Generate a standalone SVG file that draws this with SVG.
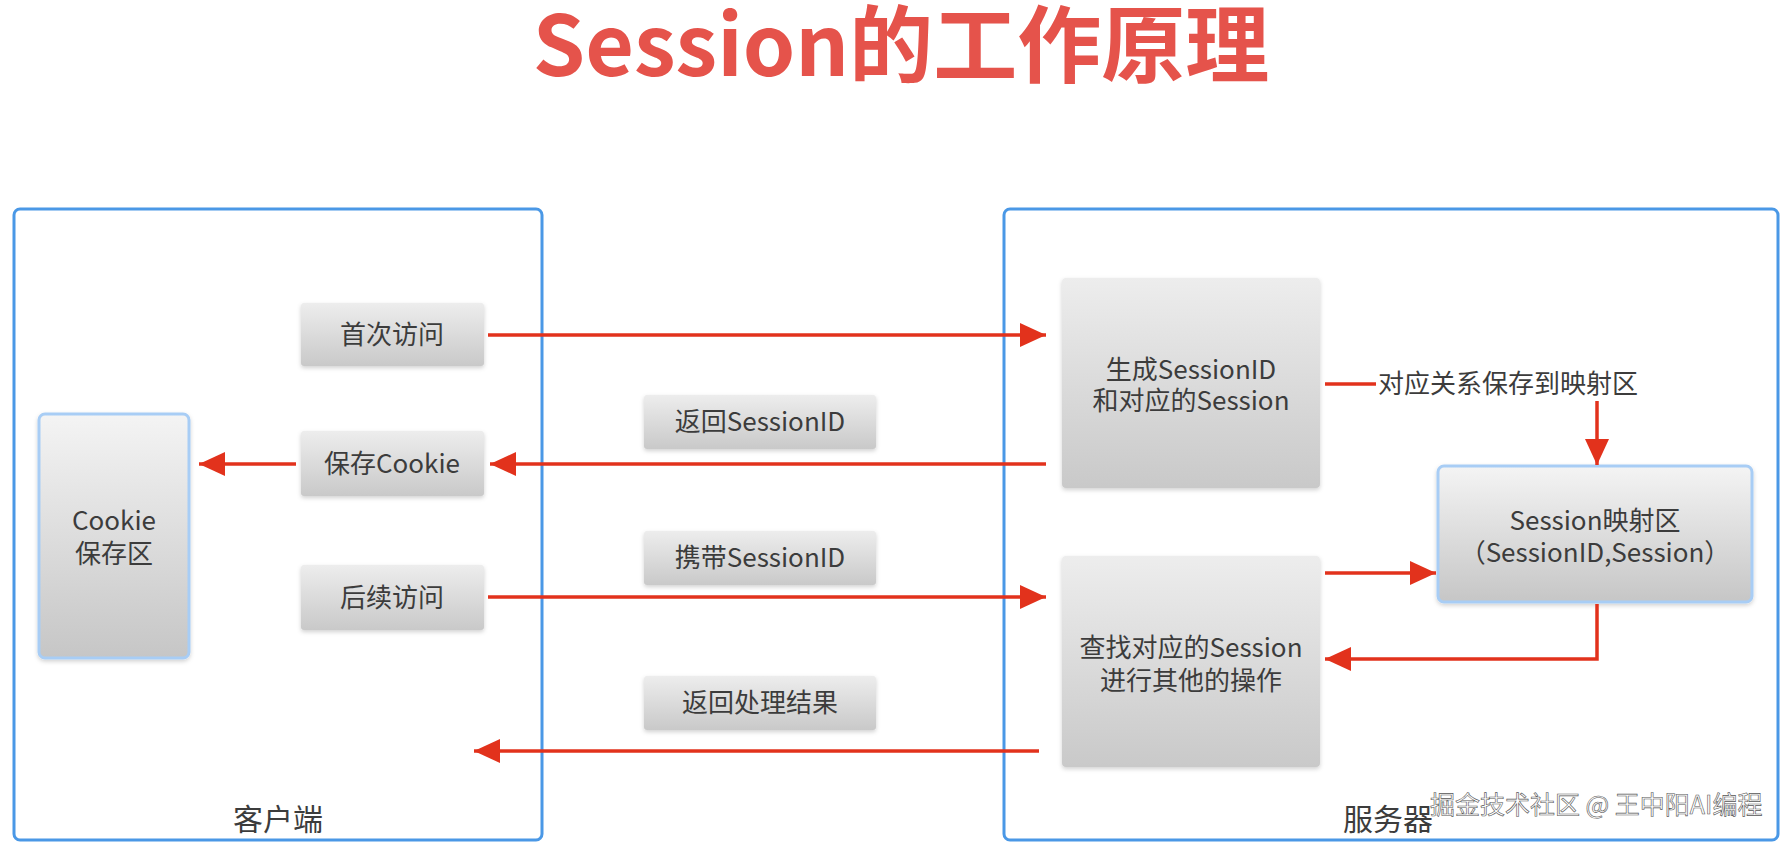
<svg xmlns="http://www.w3.org/2000/svg" width="1787" height="842" viewBox="0 0 1787 842">
<defs>
<linearGradient id="g" x1="0" y1="0" x2="0" y2="1">
<stop offset="0" stop-color="#ededed"/>
<stop offset="1" stop-color="#c9c9c9"/>
</linearGradient>
<linearGradient id="gb" x1="0" y1="0" x2="0" y2="1">
<stop offset="0" stop-color="#f4f4f4"/>
<stop offset="1" stop-color="#c6c6c6"/>
</linearGradient>
<filter id="sh" x="-10%" y="-10%" width="120%" height="130%">
<feDropShadow dx="0" dy="2" stdDeviation="2" flood-color="#000" flood-opacity="0.18"/>
</filter>
<marker id="ah" markerUnits="userSpaceOnUse" markerWidth="28" markerHeight="24" refX="26" refY="12" orient="auto">
<path d="M0,0 L26,12 L0,24 z" fill="#e2321c"/>
</marker>
</defs>
<style>
text{font-family:"Noto Sans CJK SC","Noto Sans",sans-serif;fill:#3c3c3c;font-size:26px;text-anchor:middle}
.title{font-size:84px;font-weight:bold;fill:#e5534b}
.box{fill:url(#g);filter:url(#sh)}
.bbox{fill:url(#gb);stroke:#a8cdf5;stroke-width:3;filter:url(#sh)}
.cont{fill:none;stroke:#4a98e6;stroke-width:3}
.c{fill:none;stroke:#e2321c;stroke-width:3.5}
.big{font-size:30px}
.wm{fill:#fff;stroke:#555;stroke-width:0.6;font-size:25px;text-anchor:start}
</style>
<rect width="1787" height="842" fill="#fff"/>
<text class="title" x="901" y="76">Session的工作原理</text>

<g id="client">
<rect class="cont" x="14" y="209" width="528" height="631" rx="6"/>
<text class="big" x="278" y="830">客户端</text>
</g>
<g id="server">
<rect class="cont" x="1004" y="209" width="774" height="631" rx="6"/>
<text class="big" x="1388" y="830">服务器</text>
</g>

<g id="first-visit">
<rect class="box" x="301" y="303" width="183" height="63" rx="3"/>
<text x="392" y="344">首次访问</text>
</g>
<g id="save-cookie">
<rect class="box" x="301" y="431" width="183" height="65" rx="3"/>
<text x="392" y="473">保存Cookie</text>
</g>
<g id="later-visit">
<rect class="box" x="301" y="565" width="183" height="65" rx="3"/>
<text x="392" y="607">后续访问</text>
</g>
<g id="cookie-store">
<rect class="bbox" x="39" y="414" width="150" height="244" rx="6"/>
<text x="114" y="530">Cookie</text>
<text x="114" y="563">保存区</text>
</g>

<g id="ret-sid">
<rect class="box" x="644" y="395" width="232" height="54" rx="3"/>
<text x="760" y="431">返回SessionID</text>
</g>
<g id="carry-sid">
<rect class="box" x="644" y="531" width="232" height="54" rx="3"/>
<text x="760" y="567">携带SessionID</text>
</g>
<g id="ret-result">
<rect class="box" x="644" y="676" width="232" height="54" rx="3"/>
<text x="760" y="712">返回处理结果</text>
</g>

<g id="gen-session">
<rect class="box" x="1062" y="278" width="258" height="210" rx="4"/>
<text x="1191" y="379">生成SessionID</text>
<text x="1191" y="410">和对应的Session</text>
</g>
<g id="find-session">
<rect class="box" x="1062" y="556" width="258" height="211" rx="4"/>
<text x="1191" y="657">查找对应的Session</text>
<text x="1191" y="690">进行其他的操作</text>
</g>
<g id="session-map">
<rect class="bbox" x="1438" y="466" width="314" height="136" rx="6"/>
<text x="1595" y="530">Session映射区</text>
<text x="1595" y="562">（SessionID,Session）</text>
</g>

<g id="connectors">
<line class="c" x1="488" y1="335" x2="1046" y2="335" marker-end="url(#ah)"/>
<line class="c" x1="1046" y1="464" x2="490" y2="464" marker-end="url(#ah)"/>
<line class="c" x1="296" y1="464" x2="199" y2="464" marker-end="url(#ah)"/>
<line class="c" x1="488" y1="597" x2="1046" y2="597" marker-end="url(#ah)"/>
<line class="c" x1="1039" y1="751" x2="474" y2="751" marker-end="url(#ah)"/>
<line class="c" x1="1325" y1="384" x2="1376" y2="384"/>
<text x="1508" y="393">对应关系保存到映射区</text>
<line class="c" x1="1597" y1="401" x2="1597" y2="465" marker-end="url(#ah)"/>
<line class="c" x1="1325" y1="573" x2="1436" y2="573" marker-end="url(#ah)"/>
<polyline class="c" points="1597,604 1597,659 1325,659" marker-end="url(#ah)"/>
</g>

<text class="wm" x="1430" y="814">掘金技术社区 @ 王中阳AI编程</text>
</svg>
